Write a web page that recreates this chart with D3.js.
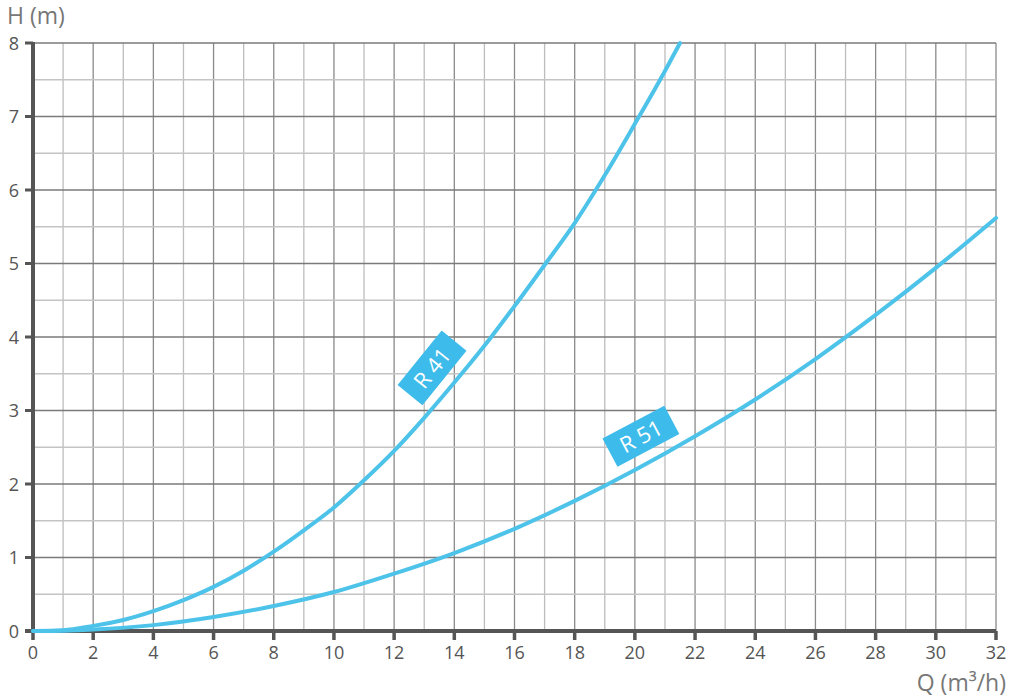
<!DOCTYPE html>
<html><head><meta charset="utf-8">
<script src="https://cdn.jsdelivr.net/npm/d3@7"></script>
<style>body{margin:0;background:#fff;} text{font-family:"Open Sans",sans-serif;}</style>
</head><body><svg id="c" width="1013" height="698"></svg>
<script>
const xTicks = [0,2,4,6,8,10,12,14,16,18,20,22,24,26,28,30,32];
const yTicks = [0,1,2,3,4,5,6,7,8];
const r41Q = [0,1,2,3,4,5,6,7,8,9,10,11,12,13,14,15,16,17,18,19,20,21,21.5];
const r41H = [0,0.01,0.07,0.15,0.27,0.42,0.6,0.82,1.08,1.37,1.68,2.05,2.45,2.9,3.38,3.88,4.42,4.98,5.55,6.2,6.9,7.62,8.0];
const r51Q = [0,1,2,4,6,8,10,12,14,16,18,20,22,24,26,28,30,32];
const r51H = [0,0.005,0.02,0.08,0.19,0.34,0.53,0.78,1.06,1.39,1.77,2.19,2.65,3.15,3.7,4.3,4.94,5.62];
const labelText = ["R 41","R 51"];
const labelQ = [13.26, 20.2];
const labelH = [3.58, 2.65];
const labelAngle = [-51, -28];

const svg = d3.select("#c");
const x = d3.scaleLinear().domain([0,32]).range([33,996]);
const y = d3.scaleLinear().domain([0,8]).range([631,43]);

// grid
const g = svg.append("g");
d3.range(0,33,1).forEach(v=>{
  g.append("line").attr("x1",x(v)).attr("x2",x(v)).attr("y1",y(8)).attr("y2",y(0))
   .attr("stroke", v%2===0 ? "#8a8a8a" : "#bdbdbd").attr("stroke-width",1.3);
});
d3.range(0,8.01,0.5).forEach(v=>{
  g.append("line").attr("x1",x(0)).attr("x2",x(32)).attr("y1",y(v)).attr("y2",y(v))
   .attr("stroke", Number.isInteger(v) ? "#7a7a7a" : "#c4c4c4").attr("stroke-width",1.3);
});

// axes
const axc = "#555";
svg.append("line").attr("x1",x(0)).attr("x2",x(0)).attr("y1",y(8)-1).attr("y2",y(0)+2).attr("stroke",axc).attr("stroke-width",4);
svg.append("line").attr("x1",x(0)-8).attr("x2",x(32)).attr("y1",y(0)).attr("y2",y(0)).attr("stroke",axc).attr("stroke-width",4);
yTicks.forEach(v=>{
  svg.append("line").attr("x1",x(0)-8).attr("x2",x(0)).attr("y1",y(v)).attr("y2",y(v)).attr("stroke",axc).attr("stroke-width",3);
  svg.append("text").attr("x",19).attr("y",y(v)+6.5).attr("text-anchor","end").attr("font-size",18).attr("fill","#555").text(v);
});
xTicks.forEach(v=>{
  svg.append("line").attr("x1",x(v)).attr("x2",x(v)).attr("y1",y(0)).attr("y2",y(0)+9).attr("stroke",axc).attr("stroke-width",3.5);
  svg.append("text").attr("x",x(v)).attr("y",659).attr("text-anchor","middle").attr("font-size",18).attr("fill","#555").text(v);
});
svg.append("text").attr("x",7).attr("y",24).attr("font-size",23).attr("fill","#777").text("H (m)");
svg.append("text").attr("x",1006).attr("y",691).attr("text-anchor","end").attr("font-size",23).attr("fill","#777").text("Q (m³/h)");

// curves
const line = d3.line().x(d=>x(d[0])).y(d=>y(d[1])).curve(d3.curveMonotoneX);
const col = "#4ec3ea";
[[r41Q,r41H],[r51Q,r51H]].forEach(([qs,hs])=>{
  svg.append("path").attr("d", line(qs.map((q,i)=>[q,hs[i]]))).attr("fill","none")
    .attr("stroke",col).attr("stroke-width",4).attr("stroke-linecap","round");
});

// labels
labelText.forEach((t,i)=>{
  const grp = svg.append("g").attr("transform",`translate(${x(labelQ[i])},${y(labelH[i])}) rotate(${labelAngle[i]})`);
  grp.append("rect").attr("x",-35).attr("y",-16).attr("width",70).attr("height",32).attr("fill","#3dbbea");
  grp.append("text").attr("x",0).attr("y",8).attr("text-anchor","middle").attr("font-size",22).attr("fill","#fff").text(t);
});
</script></body></html>
